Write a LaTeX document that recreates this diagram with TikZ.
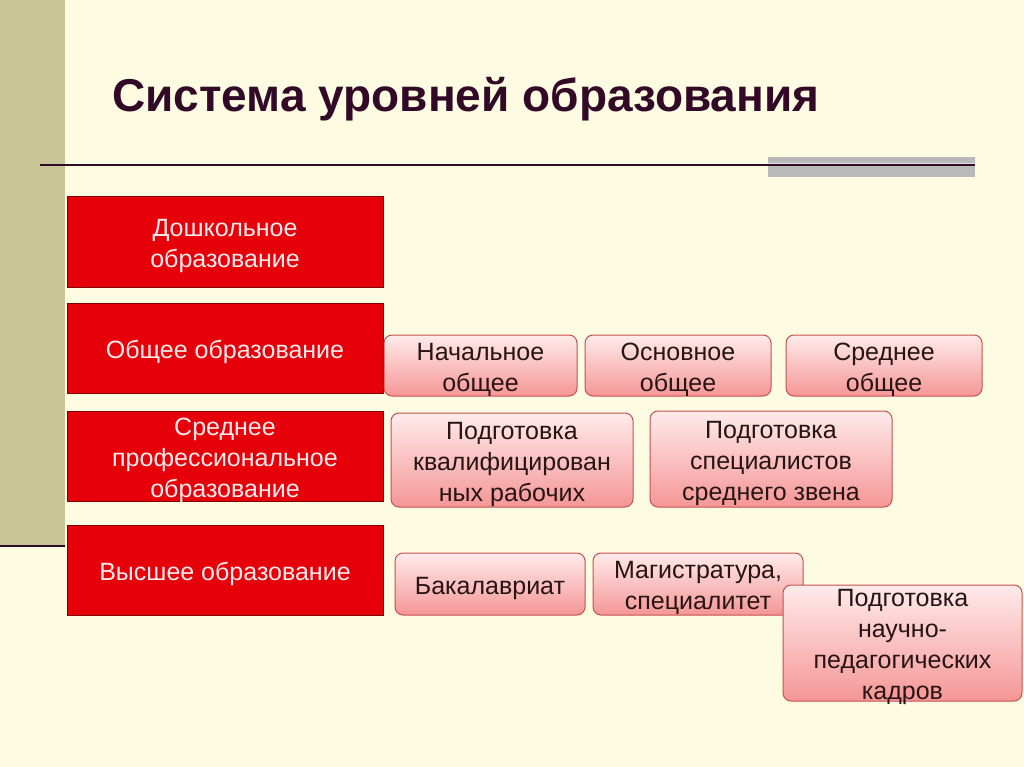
\documentclass[tikz,border=0pt]{standalone}
\usepackage{fontspec}
\setmainfont{Liberation Sans}
\begin{document}
\begin{tikzpicture}[x=1pt,y=-1pt,
  lvl/.style={draw=red!50!black,line width=1pt,fill={rgb,255:red,230;green,0;blue,10},inner sep=0pt},
  lvltxt/.style={text={rgb,255:red,255;green,235;blue,235},font=\fontsize{25}{31}\selectfont,align=center,inner sep=0pt},
  sub/.style={draw={rgb,255:red,200;green,80;blue,80},line width=1pt,rounded corners=8pt,top color={rgb,255:red,255;green,235;blue,235},bottom color={rgb,255:red,245;green,150;blue,150},inner sep=0pt},
  subtxt/.style={text={rgb,255:red,40;green,20;blue,20},font=\fontsize{25}{31}\selectfont,align=center,inner sep=0pt}]
\definecolor{bg}{RGB}{253,251,225}
\definecolor{strip}{RGB}{200,198,150}
\definecolor{dk}{RGB}{50,10,40}
\fill[bg] (0,0) rectangle (1024,767);
\useasboundingbox (0,0) rectangle (1024,767);
\fill[strip] (0,0) rectangle (65,545);
\draw[dk,line width=2pt] (0,546) -- (65,546);
\fill[gray!55] (768,157) rectangle (975,177);
\fill[gray!25] (768,163) rectangle (975,166);
\draw[dk,line width=1.5pt] (40,165) -- (975,165);
\node[font=\fontsize{46}{48}\selectfont\bfseries,text=dk,anchor=west,inner sep=0pt] (title) at (112,99) {Система уровней образования};
\newcommand\bx[6]{\node[#1,minimum width=#4-#2,minimum height=#5-#3] (#6) at ({(#2+#4)/2},{(#3+#5)/2}) {};
  \node[#1txt] (#6t) at ([yshift=-4pt]#6.center)}
\bx{lvl}{67}{197}{383}{287}{a} {Дошкольное\\образование};
\bx{lvl}{67}{303}{383}{393}{b} {Общее образование};
\bx{lvl}{67}{411}{383}{501}{c} {Среднее\\профессиональное\\образование};
\bx{lvl}{67}{525}{383}{615}{d} {Высшее образование};
\bx{sub}{384}{335}{577}{396}{b1} {Начальное\\общее};
\bx{sub}{585}{335}{771}{396}{b2} {Основное\\общее};
\bx{sub}{786}{335}{982}{396}{b3} {Среднее\\общее};
\bx{sub}{391}{413}{633}{507}{c1} {Подготовка\\квалифицирован\\ных рабочих};
\bx{sub}{650}{411}{892}{507}{c2} {Подготовка\\специалистов\\среднего звена};
\bx{sub}{395}{553}{585}{615}{d1} {Бакалавриат};
\bx{sub}{593}{553}{803}{615}{d2} {Магистратура,\\специалитет};
\bx{sub}{783}{585}{1022}{701}{d3} {Подготовка\\научно-\\педагогических\\кадров};
\end{tikzpicture}
\end{document}
